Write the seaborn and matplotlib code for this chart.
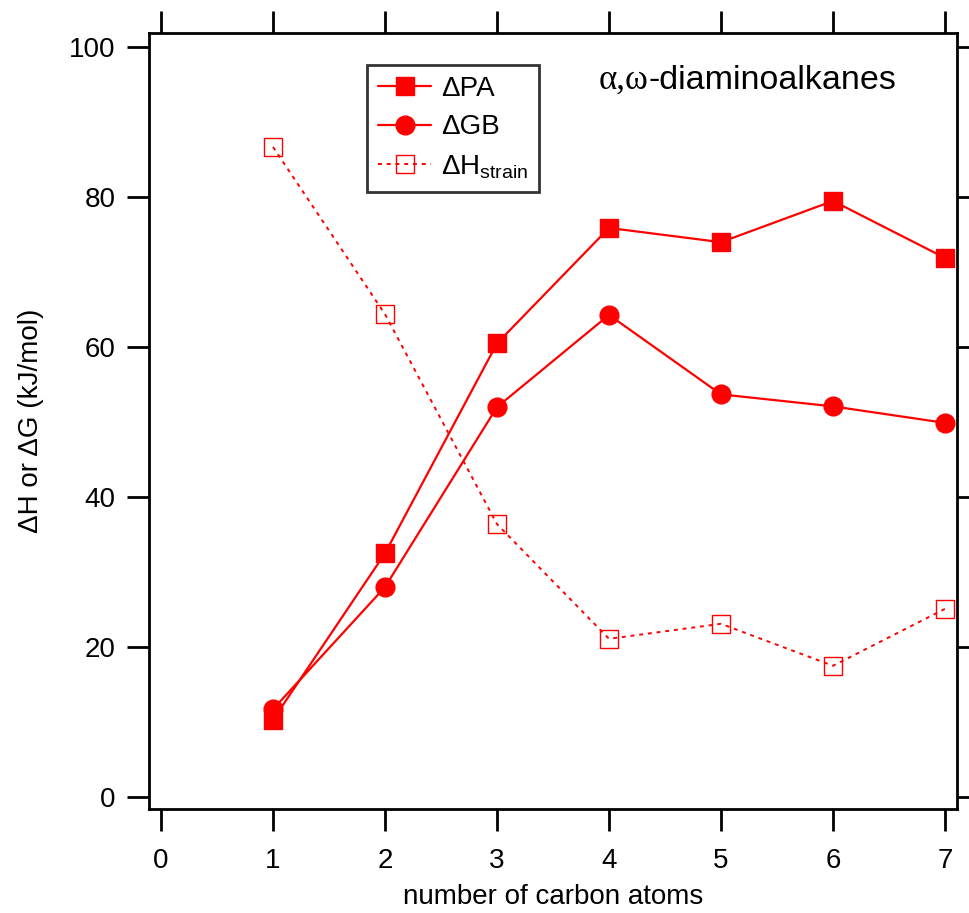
import pandas as pd
import seaborn as sns
import matplotlib.pyplot as plt

carbons = [1, 2, 3, 4, 5, 6, 7]
delta_pa = [10.3, 32.5, 60.5, 75.9, 74.0, 79.5, 71.9]
delta_gb = [11.7, 28.0, 52.0, 64.3, 53.7, 52.1, 49.9]
delta_h_strain = [86.7, 64.4, 36.4, 21.1, 23.1, 17.5, 25.1]

x_ticks = [0, 1, 2, 3, 4, 5, 6, 7]
y_ticks = [0, 20, 40, 60, 80, 100]

sns.set_style("white")
plt.rcParams['font.family'] = ['Liberation Sans', 'DejaVu Sans']
plt.rcParams['mathtext.fontset'] = 'custom'
plt.rcParams['mathtext.rm'] = 'Liberation Sans'
for k in ['text.color', 'axes.labelcolor', 'xtick.color', 'ytick.color']:
    plt.rcParams[k] = 'black'

df = pd.DataFrame({"n": carbons, "pa": delta_pa, "gb": delta_gb, "strain": delta_h_strain})

fig = plt.figure(figsize=(9.7, 9.13), dpi=100)
ax = fig.add_axes([149 / 970, 1 - 809 / 913, (957 - 149) / 970, (809 - 33) / 913])

red = '#ff0000'
sns.lineplot(data=df, x="n", y="pa", ax=ax, color=red, lw=1.6, marker='s', markersize=13.5,
             markeredgecolor=red, markeredgewidth=1.0, label="ΔPA")
sns.lineplot(data=df, x="n", y="gb", ax=ax, color=red, lw=1.6, marker='o', markersize=13.5,
             markeredgecolor=red, markeredgewidth=1.0, label="ΔGB")
sns.lineplot(data=df, x="n", y="strain", ax=ax, color=red, lw=1.4, marker='s', markersize=13.5,
             markerfacecolor='none', markeredgecolor=red, markeredgewidth=1.0,
             label=r"ΔH$_\mathregular{strain}$")
ax.lines[2].set_linestyle((0, (2, 2.5)))

ax.set_xlim(-0.107, 7.107)
ax.set_ylim(-1.6, 101.9)
ax.set_xticks(x_ticks)
ax.set_yticks(y_ticks)
ax.tick_params(axis='both', which='major', direction='out', length=16, width=2,
               labelsize=20, colors='black',
               top=True, right=True, bottom=True, left=True)
ax.tick_params(axis='x', pad=12)
ax.tick_params(axis='y', pad=8)
for s in ax.spines.values():
    s.set_linewidth(2)
    s.set_color('black')

ax.set_xlabel("number of carbon atoms", fontsize=20, labelpad=7)
ax.set_ylabel("ΔH or ΔG (kJ/mol)", fontsize=20, labelpad=18)

# title-like annotation: greek part in a serif face, rest in sans
ax.text(0.6176, 0.928, "α,ω", transform=ax.transAxes, fontsize=25,
        family='Liberation Serif', ha='right', va='baseline')
ax.text(0.6176, 0.928, "-diaminoalkanes", transform=ax.transAxes, fontsize=24.5,
        ha='left', va='baseline')

leg = ax.legend(loc='upper left', bbox_to_anchor=(0.270, 0.959), borderaxespad=0,
                fontsize=20, frameon=True, fancybox=False, edgecolor='black',
                handlelength=1.9, borderpad=0.4, labelspacing=0.45, handletextpad=0.35)
leg.get_frame().set_linewidth(2)

fig.savefig("out.png", dpi=100)
